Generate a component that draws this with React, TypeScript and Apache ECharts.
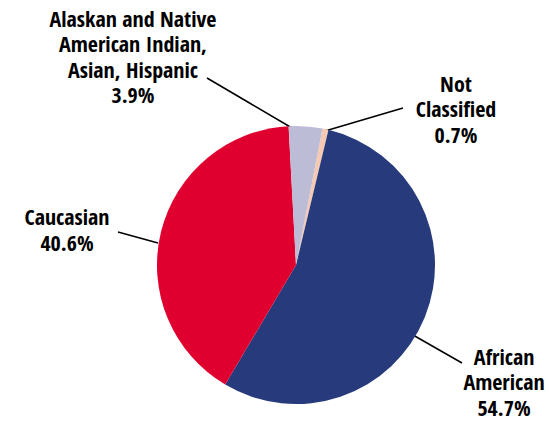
import React, { useEffect, useRef } from "react";
import * as echarts from "echarts";

const categories = [
  "Not\nClassified",
  "African\nAmerican",
  "Caucasian",
  "Alaskan and Native\nAmerican Indian,\nAsian, Hispanic",
];
const values = [0.7, 54.7, 40.6, 3.9];
const colors = ["#F6C9B2", "#263A7C", "#DF002F", "#BDBCD7"];

// label layout (text centre, leader line start/end) per slice
const labelCenters = [
  [456, 108],
  [504, 381],
  [67, 229],
  [133, 56],
];
const leaderLines = [
  [[325, 131], [403, 108]],
  [[413, 335], [462, 363]],
  [[158, 243], [118, 232]],
  [[292, 128], [207, 78]],
];

export default function App() {
  const ref = useRef<HTMLDivElement>(null);
  useEffect(() => {
    const chart = echarts.init(ref.current!, null, { renderer: "svg" });
    chart.setOption({
      animation: false,
      backgroundColor: "#ffffff",
      series: [
        {
          type: "pie",
          center: [296, 265],
          radius: 139,
          startAngle: 79,
          clockwise: true,
          avoidLabelOverlap: false,
          data: categories.map((c, i) => ({
            name: c,
            value: values[i],
            itemStyle: { color: colors[i] },
          })),
          label: {
            show: true,
            position: "outside",
            formatter: (p: any) => `${p.name}\n${p.value.toFixed(1)}%`,
            fontFamily: "'Open Sans Condensed', 'Roboto Condensed', Roboto, sans-serif",
            fontWeight: "bold",
            fontSize: 22,
            lineHeight: 25.5,
            color: "#000000",
            align: "center",
          },
          labelLine: {
            show: true,
            lineStyle: { color: "#000000", width: 1.5 },
          },
          labelLayout: (p: any) => {
            const i = p.dataIndex;
            const [a, b] = leaderLines[i];
            return {
              x: labelCenters[i][0],
              y: labelCenters[i][1],
              align: "center",
              verticalAlign: "middle",
              labelLinePoints: [a, [(a[0] + b[0]) / 2, (a[1] + b[1]) / 2], b],
            };
          },
          emphasis: { disabled: true },
        },
      ],
    });
    return () => chart.dispose();
  }, []);
  return (
    <div
      ref={ref}
      style={{ position: "absolute", left: 0, top: 0, width: 549, height: 421 }}
    />
  );
}
